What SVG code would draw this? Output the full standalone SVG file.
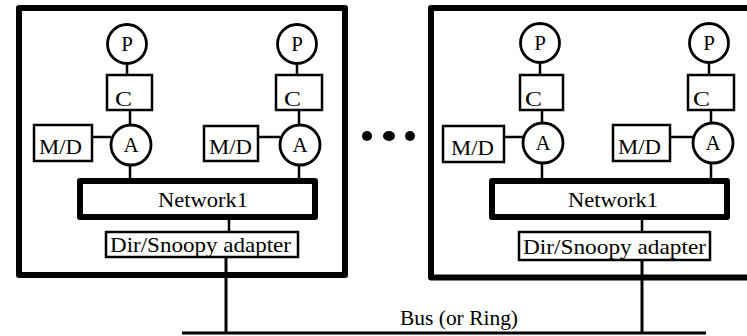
<svg xmlns="http://www.w3.org/2000/svg" width="747" height="336" viewBox="0 0 747 336">
<style>
.frame{fill:none;stroke:#000;stroke-width:6;stroke-linejoin:round}
.net{fill:#fff;stroke:#000;stroke-width:6;stroke-linejoin:round}
.box{fill:#fff;stroke:#000;stroke-width:2.5}
.circ{fill:#fff;stroke:#000;stroke-width:2.8}
.ln{stroke:#000;stroke-width:2.5;fill:none}
.bus{stroke:#000;stroke-width:3;fill:none}
text{font-family:"Liberation Serif","Times New Roman",serif;font-size:21px;fill:#000}
.c{text-anchor:middle}
</style>
<rect width="747" height="336" fill="#fff"/>
<g id="node1-frame"><rect class="frame" x="19" y="8" width="326" height="267"/></g>
<g id="node2-frame"><rect class="frame" x="431" y="8" width="320" height="269.5"/></g>
<g id="connectors">
<line class="ln" x1="127" y1="63" x2="127" y2="75"/>
<line class="ln" x1="130" y1="110" x2="130" y2="125"/>
<line class="ln" x1="92" y1="137" x2="111" y2="137"/>
<line class="ln" x1="130" y1="165" x2="130" y2="181"/>
<line class="ln" x1="297" y1="63" x2="297" y2="75"/>
<line class="ln" x1="299" y1="110" x2="299" y2="125"/>
<line class="ln" x1="258" y1="137" x2="280" y2="137"/>
<line class="ln" x1="299" y1="165" x2="299" y2="181"/>
<line class="ln" x1="229" y1="217" x2="229" y2="232"/>
<line class="ln" x1="540" y1="62" x2="540" y2="75"/>
<line class="ln" x1="542" y1="110" x2="542" y2="123"/>
<line class="ln" x1="504" y1="137" x2="524" y2="137"/>
<line class="ln" x1="542" y1="163" x2="542" y2="181"/>
<line class="ln" x1="709" y1="62" x2="709" y2="75"/>
<line class="ln" x1="711" y1="110" x2="711" y2="123"/>
<line class="ln" x1="670" y1="137" x2="693" y2="137"/>
<line class="ln" x1="711" y1="163" x2="711" y2="181"/>
<line class="ln" x1="642" y1="217" x2="642" y2="232"/>
<line class="bus" x1="182" y1="333" x2="706" y2="333"/>
<line class="bus" x1="226" y1="253" x2="226" y2="333"/>
<line class="bus" x1="642" y1="253" x2="642" y2="333"/>
</g>
<g id="p1"><circle class="circ" cx="127" cy="44" r="19.5"/><text class="c" x="127" y="51">P</text></g>
<g id="c1"><rect class="box" x="107" y="75" width="45" height="35"/><text x="115" y="106" textLength="17" lengthAdjust="spacingAndGlyphs">C</text></g>
<g id="a1"><circle class="circ" cx="131" cy="145" r="20"/><text class="c" x="131" y="152">A</text></g>
<g id="md1"><rect class="box" x="34" y="125" width="58" height="36"/><text x="39" y="154" textLength="43" lengthAdjust="spacingAndGlyphs">M/D</text></g>
<g id="p2"><circle class="circ" cx="297" cy="44" r="19.5"/><text class="c" x="297" y="51">P</text></g>
<g id="c2"><rect class="box" x="276" y="75" width="46" height="35"/><text x="284" y="106" textLength="17" lengthAdjust="spacingAndGlyphs">C</text></g>
<g id="a2"><circle class="circ" cx="300" cy="145" r="20"/><text class="c" x="300" y="152">A</text></g>
<g id="md2"><rect class="box" x="204" y="126" width="54" height="35"/><text x="209" y="154" textLength="43" lengthAdjust="spacingAndGlyphs">M/D</text></g>
<g id="net1"><rect class="net" x="80" y="181" width="235" height="36"/><text x="158" y="207" textLength="90" lengthAdjust="spacingAndGlyphs">Network1</text></g>
<g id="dir1"><rect class="box" x="106" y="232" width="192" height="25"/><text x="110" y="252" textLength="181" lengthAdjust="spacingAndGlyphs">Dir/Snoopy adapter</text></g>
<g id="p3"><circle class="circ" cx="540" cy="43" r="19.5"/><text class="c" x="540" y="50">P</text></g>
<g id="c3"><rect class="box" x="520" y="75" width="43" height="35"/><text x="525" y="106" textLength="17" lengthAdjust="spacingAndGlyphs">C</text></g>
<g id="a3"><circle class="circ" cx="543" cy="143" r="20"/><text class="c" x="543" y="150">A</text></g>
<g id="md3"><rect class="box" x="443" y="126" width="61" height="36"/><text x="451" y="155" textLength="43" lengthAdjust="spacingAndGlyphs">M/D</text></g>
<g id="p4"><circle class="circ" cx="709" cy="43" r="19.5"/><text class="c" x="709" y="50">P</text></g>
<g id="c4"><rect class="box" x="688" y="75" width="46" height="35"/><text x="693" y="106" textLength="17" lengthAdjust="spacingAndGlyphs">C</text></g>
<g id="a4"><circle class="circ" cx="713" cy="143" r="20"/><text class="c" x="713" y="150">A</text></g>
<g id="md4"><rect class="box" x="613" y="125" width="57" height="36"/><text x="618" y="154" textLength="43" lengthAdjust="spacingAndGlyphs">M/D</text></g>
<g id="net2"><rect class="net" x="492" y="181" width="235" height="36"/><text x="568" y="207" textLength="90" lengthAdjust="spacingAndGlyphs">Network1</text></g>
<g id="dir2"><rect class="box" x="519" y="232" width="191" height="28"/><text x="523" y="254" textLength="183" lengthAdjust="spacingAndGlyphs">Dir/Snoopy adapter</text></g>
<g id="dots"><circle cx="367" cy="136" r="5"/><ellipse cx="389" cy="136" rx="6" ry="5"/><circle cx="410" cy="136" r="5"/></g>
<g id="bus-label"><text x="400" y="325" textLength="118" lengthAdjust="spacingAndGlyphs">Bus (or Ring)</text></g>
</svg>
